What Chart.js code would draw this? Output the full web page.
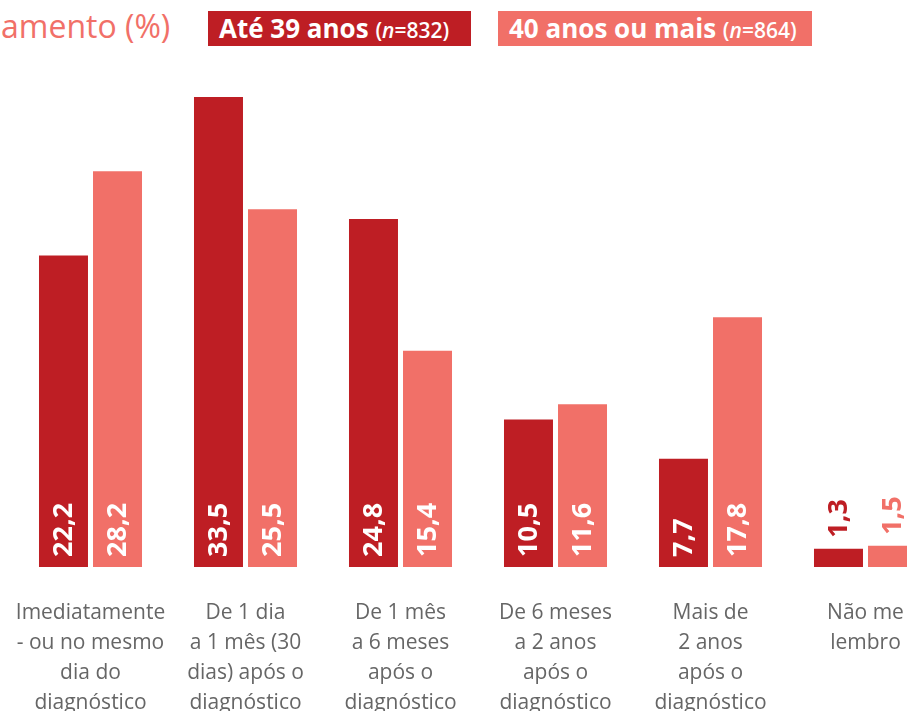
<!DOCTYPE html>
<html>
<head>
<meta charset="UTF-8">
<title>Tempo até o início do tratamento</title>
<script src="https://cdn.jsdelivr.net/npm/chart.js"></script>
<style>
  html, body { margin: 0; padding: 0; background: #fff; overflow: hidden; width: 907px; height: 711px; }
  .title { position: absolute; left: 1px; top: 4px; font-family: "Open Sans", sans-serif; font-size: 32px; color: #F17068; white-space: nowrap; }
  .leg { position: absolute; top: 11px; height: 35px; line-height: 35px; color: #fff; font-family: "Open Sans", sans-serif; font-weight: bold; font-size: 26px; padding-left: 11px; box-sizing: border-box; white-space: nowrap; }
  .leg small { font-size: 21px; font-weight: 600; }
  #l1 { left: 208px; width: 263px; background: #BE1E24; }
  #l2 { left: 498px; width: 314px; background: #F17068; }
  .box { position: absolute; left: 0; top: 0; width: 943px; height: 745px; }
</style>
</head>
<body>
<div class="title">amento (%)</div>
<div class="leg" id="l1">Até 39 anos <small>(<i>n</i>=832)</small></div>
<div class="leg" id="l2">40 anos ou mais <small>(<i>n</i>=864)</small></div>
<div class="box"><canvas id="myChart" width="943" height="745"></canvas></div>
<script>
// data
const categorias = [
  ['Imediatamente', '- ou no mesmo', 'dia do', 'diagnóstico'],
  ['De 1 dia', 'a 1 mês (30', 'dias) após o', 'diagnóstico'],
  ['De 1 mês', 'a 6 meses', 'após o', 'diagnóstico'],
  ['De 6 meses', 'a 2 anos', 'após o', 'diagnóstico'],
  ['Mais de', '2 anos', 'após o', 'diagnóstico'],
  ['Não me', 'lembro']
];
const ate39 = [22.2, 33.5, 24.8, 10.5, 7.7, 1.3];
const mais40 = [28.2, 25.5, 15.4, 11.6, 17.8, 1.5];
const nomes = ['Até 39 anos (n=832)', '40 anos ou mais (n=864)'];
const cores = ['#BE1E24', '#F17068'];

// rotated value labels
const rotuloPlugin = {
  id: 'rotulos',
  afterDatasetsDraw(chart) {
    const ctx = chart.ctx;
    chart.data.datasets.forEach((ds, i) => {
      chart.getDatasetMeta(i).data.forEach((bar, j) => {
        const v = ds.data[j];
        const txt = v.toFixed(1).replace('.', ',');
        ctx.save();
        ctx.font = 'bold 27px "Open Sans"';
        ctx.textBaseline = 'middle';
        ctx.textAlign = 'left';
        let y;
        if (v > 5) {
          ctx.fillStyle = '#fff';
          y = bar.base - 10;
        } else {
          ctx.fillStyle = cores[i];
          y = bar.y - 11;
        }
        ctx.translate(bar.x + 1, y);
        ctx.rotate(-Math.PI / 2);
        ctx.fillText(txt, 0, 0);
        ctx.restore();
      });
    });
  }
};

const myChart = new Chart(document.getElementById('myChart'), {
  type: 'bar',
  data: {
    labels: categorias,
    datasets: [
      { label: nomes[0], data: ate39, backgroundColor: cores[0] },
      { label: nomes[1], data: mais40, backgroundColor: cores[1] }
    ]
  },
  options: {
    responsive: false,
    animation: false,
    categoryPercentage: 0.697,
    barPercentage: 0.907,
    layout: { padding: { left: 13, right: 0, top: 80, bottom: 4 } },
    plugins: { legend: { display: false }, tooltip: { enabled: false } },
    scales: {
      x: {
        grid: { display: false },
        border: { display: false },
        afterFit(scale) {
          scale.paddingLeft = 0;
          scale.paddingRight = 0;
        },
        ticks: {
          color: '#666',
          font: { family: 'Open Sans', size: 21, lineHeight: 1.43 },
          padding: 23,
          maxRotation: 0,
          autoSkip: false
        }
      },
      y: {
        display: false,
        min: 0,
        max: 34.71
      }
    }
  },
  plugins: [rotuloPlugin]
});
</script>
</body>
</html>
